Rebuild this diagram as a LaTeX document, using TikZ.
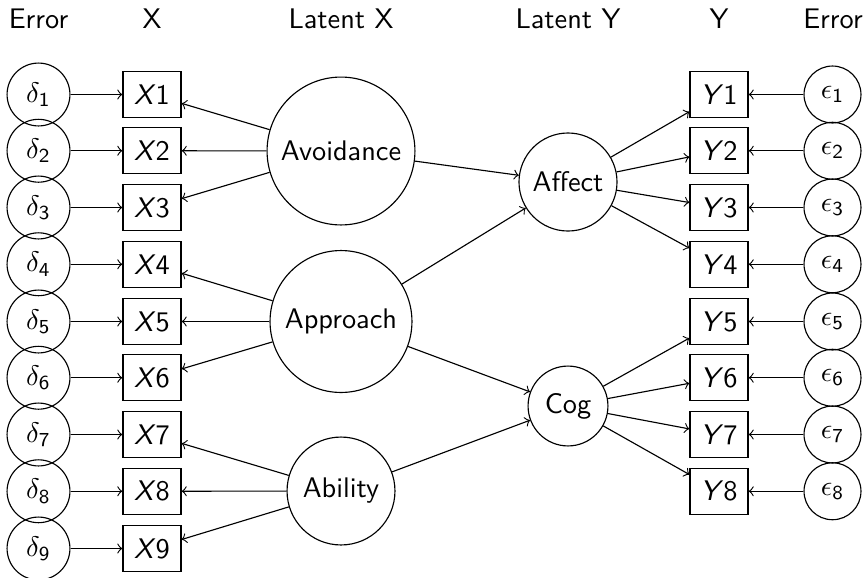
\documentclass[tikz,border=0pt]{standalone}
\renewcommand{\familydefault}{\sfdefault}
\usepackage{amsmath}
\usepackage{tikz}

\tikzset{
  errcirc/.style={draw, circle, inner sep=0pt, minimum size=22.2pt},
  epscirc/.style={draw, circle, inner sep=0pt, minimum size=20.1pt},
  obsbox/.style={draw, rectangle, inner sep=0pt, minimum width=20.5pt, minimum height=16.2pt},
  latcirc/.style={draw, circle, inner sep=0pt},
  colhead/.style={anchor=base}
}

\begin{document}
\begin{tikzpicture}[x=0.353pt, y=-0.353pt]
\useasboundingbox (0,0) rectangle (864,577);

\node[colhead] (hd) at (38.5,28) {Error};
\node[colhead] (hx) at (152,28) {X};
\node[colhead] (hlx) at (341,28) {Latent X};
\node[colhead] (hly) at (568,28) {Latent Y};
\node[colhead] (hy) at (719,28) {Y};
\node[colhead] (he) at (833,28) {Error};

% latent variables
\node[latcirc, minimum size=52.2pt] (avoid) at (341,151) {Avoidance};
\node[latcirc, minimum size=50.1pt] (approach) at (341,321.5) {Approach};
\node[latcirc, minimum size=38.1pt] (ability) at (341,491) {Ability};
\node[latcirc, minimum size=34.6pt] (affect) at (568,182) {Affect};
\node[latcirc, minimum size=28.2pt] (cog) at (568,406) {Cog};

% x side
\node[errcirc] (d1) at (38.5,94.5) {$\delta_{\textsf{1}}$};
\node[obsbox] (x1) at (152,94.5) {\textit{X}1};
\draw[->] (d1) -- (x1);
\draw[->] (avoid) -- (x1);

\node[errcirc] (d2) at (38.5,150.75) {$\delta_{\textsf{2}}$};
\node[obsbox] (x2) at (152,150.75) {\textit{X}2};
\draw[->] (d2) -- (x2);
\draw[->] (avoid) -- (x2);

\node[errcirc] (d3) at (38.5,207.5) {$\delta_{\textsf{3}}$};
\node[obsbox] (x3) at (152,207.5) {\textit{X}3};
\draw[->] (d3) -- (x3);
\draw[->] (avoid) -- (x3);

\node[errcirc] (d4) at (38.5,264.25) {$\delta_{\textsf{4}}$};
\node[obsbox] (x4) at (152,264.25) {\textit{X}4};
\draw[->] (d4) -- (x4);
\draw[->] (approach) -- (x4);

\node[errcirc] (d5) at (38.5,321.5) {$\delta_{\textsf{5}}$};
\node[obsbox] (x5) at (152,321.5) {\textit{X}5};
\draw[->] (d5) -- (x5);
\draw[->] (approach) -- (x5);

\node[errcirc] (d6) at (38.5,377.75) {$\delta_{\textsf{6}}$};
\node[obsbox] (x6) at (152,377.75) {\textit{X}6};
\draw[->] (d6) -- (x6);
\draw[->] (approach) -- (x6);

\node[errcirc] (d7) at (38.5,434.5) {$\delta_{\textsf{7}}$};
\node[obsbox] (x7) at (152,434.5) {\textit{X}7};
\draw[->] (d7) -- (x7);
\draw[->] (ability) -- (x7);

\node[errcirc] (d8) at (38.5,491.25) {$\delta_{\textsf{8}}$};
\node[obsbox] (x8) at (152,491.25) {\textit{X}8};
\draw[->] (d8) -- (x8);
\draw[->] (ability) -- (x8);

\node[errcirc] (d9) at (38.5,548.5) {$\delta_{\textsf{9}}$};
\node[obsbox] (x9) at (152,548.5) {\textit{X}9};
\draw[->] (d9) -- (x9);
\draw[->] (ability) -- (x9);

% structural paths
\draw[->] (avoid) -- (affect);
\draw[->] (approach) -- (affect);
\draw[->] (approach) -- (cog);
\draw[->] (ability) -- (cog);

% y side
\node[obsbox] (y1) at (719,94.5) {\textit{Y}1};
\node[epscirc] (e1) at (832.5,94.5) {$\epsilon_{\textsf{1}}$};
\draw[->] (e1) -- (y1);
\draw[->] (affect) -- (y1);

\node[obsbox] (y2) at (719,150.75) {\textit{Y}2};
\node[epscirc] (e2) at (832.5,150.75) {$\epsilon_{\textsf{2}}$};
\draw[->] (e2) -- (y2);
\draw[->] (affect) -- (y2);

\node[obsbox] (y3) at (719,207.5) {\textit{Y}3};
\node[epscirc] (e3) at (832.5,207.5) {$\epsilon_{\textsf{3}}$};
\draw[->] (e3) -- (y3);
\draw[->] (affect) -- (y3);

\node[obsbox] (y4) at (719,264.25) {\textit{Y}4};
\node[epscirc] (e4) at (832.5,264.25) {$\epsilon_{\textsf{4}}$};
\draw[->] (e4) -- (y4);
\draw[->] (affect) -- (y4);

\node[obsbox] (y5) at (719,321.5) {\textit{Y}5};
\node[epscirc] (e5) at (832.5,321.5) {$\epsilon_{\textsf{5}}$};
\draw[->] (e5) -- (y5);
\draw[->] (cog) -- (y5);

\node[obsbox] (y6) at (719,377.75) {\textit{Y}6};
\node[epscirc] (e6) at (832.5,377.75) {$\epsilon_{\textsf{6}}$};
\draw[->] (e6) -- (y6);
\draw[->] (cog) -- (y6);

\node[obsbox] (y7) at (719,434.5) {\textit{Y}7};
\node[epscirc] (e7) at (832.5,434.5) {$\epsilon_{\textsf{7}}$};
\draw[->] (e7) -- (y7);
\draw[->] (cog) -- (y7);

\node[obsbox] (y8) at (719,491.25) {\textit{Y}8};
\node[epscirc] (e8) at (832.5,491.25) {$\epsilon_{\textsf{8}}$};
\draw[->] (e8) -- (y8);
\draw[->] (cog) -- (y8);
\end{tikzpicture}
\end{document}
